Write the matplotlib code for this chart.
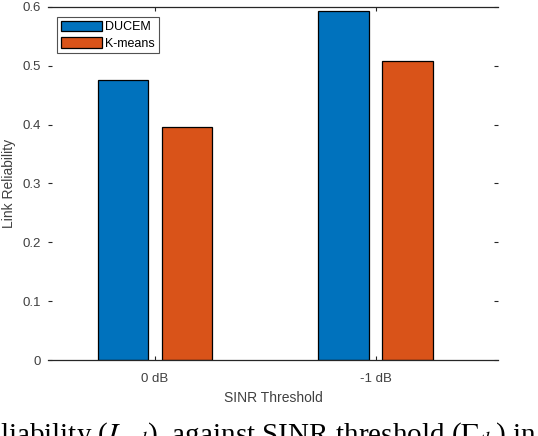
import matplotlib
matplotlib.use("Agg")
import matplotlib.pyplot as plt
import numpy as np

# data
thresholds = ["0 dB", "-1 dB"]
ducem = [0.476, 0.593]
kmeans = [0.396, 0.508]
series_names = ["DUCEM", "K-means"]

plt.rcParams['font.family'] = ['Liberation Sans', 'DejaVu Sans']
plt.rcParams['mathtext.fontset'] = 'stix'

fig = plt.figure(figsize=(5.38, 4.36), dpi=100)
ax = fig.add_axes([0.0892, 0.1743, 0.8365, 0.8097])

x = np.arange(1, len(thresholds) + 1)
w = 0.23
off = 0.145
ax.bar(x - off, ducem, w, color='#0072BD', edgecolor='black', linewidth=0.9, label=series_names[0])
ax.bar(x + off, kmeans, w, color='#D95319', edgecolor='black', linewidth=0.9, label=series_names[1])

ax.set_xlim(0.515, 2.555)
ax.set_ylim(0, 0.6)
ax.set_xticks(x)
ax.set_xticklabels(thresholds)
ax.set_yticks(np.arange(0, 0.61, 0.1))
ax.set_yticklabels(["0", "0.1", "0.2", "0.3", "0.4", "0.5", "0.6"])

for s in ['left', 'right']:
    ax.spines[s].set_visible(False)
for s in ['top', 'bottom']:
    ax.spines[s].set_linewidth(0.9)
    ax.spines[s].set_color('#262626')

ax.tick_params(direction='in', length=3, width=0.8, top=True, right=True,
               labelsize=9.5, labelcolor='#404040', color='#262626')
ax.tick_params(axis='x', pad=9.5)
ax.tick_params(axis='y', pad=5)

ax.set_xlabel("SINR Threshold", fontsize=10, color='#404040', labelpad=4)
ax.set_ylabel("Link Reliability", fontsize=10, color='#404040', labelpad=5)

leg = ax.legend(loc='upper left', bbox_to_anchor=(0.02, 0.972), fontsize=9,
                frameon=True, fancybox=False, edgecolor='#262626',
                handlelength=3.3, handleheight=0.95, handletextpad=0.25,
                labelspacing=0.3, borderpad=0.3, borderaxespad=0.0)
leg.get_frame().set_linewidth(0.8)

# caption line from the paper, cut by the lower edge as in the reference
fig.text(0.0, 1 - 443 / 436,
         r"liability ($L_{rel}$)  against SINR threshold ($\Gamma_{th}$) in",
         fontsize=21, family=['Liberation Serif', 'DejaVu Serif'], va='baseline', ha='left',
         color='black')

fig.savefig("out.png", dpi=100)
